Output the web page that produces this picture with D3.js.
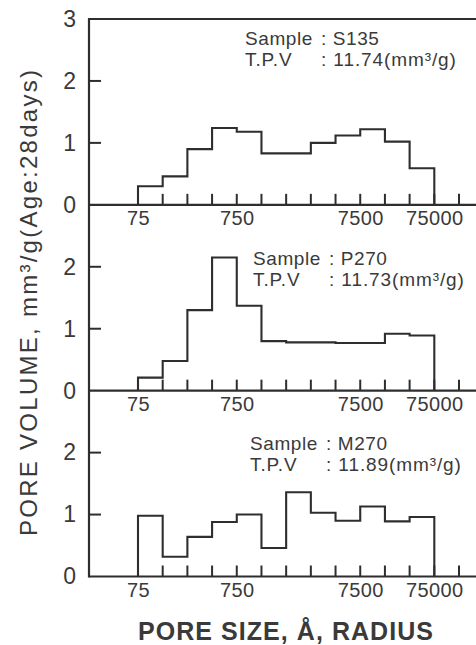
<!DOCTYPE html>
<html>
<head>
<meta charset="utf-8">
<script src="https://cdn.jsdelivr.net/npm/d3@7"></script>
<style>
  html, body { margin: 0; padding: 0; background: #fff; }
  svg { display: block; }
  text { font-family: "Liberation Sans", Arial, sans-serif; fill: #3a3a3a; }
</style>
</head>
<body>
<svg id="chart" width="476" height="645" viewBox="0 0 476 645"></svg>
<script>
// ---------- data ----------
const sampleNames = ["S135", "P270", "M270"];
const tpvValues = ["11.74", "11.73", "11.89"];
// pore volume per bin (12 equal-width bins on the pore-size axis)
const s135 = [0.30, 0.46, 0.90, 1.24, 1.18, 0.83, 0.83, 1.00, 1.12, 1.22, 1.02, 0.59];
const p270 = [0.21, 0.48, 1.30, 2.15, 1.37, 0.80, 0.78, 0.78, 0.77, 0.77, 0.92, 0.89];
const m270 = [0.98, 0.32, 0.64, 0.88, 1.00, 0.46, 1.36, 1.03, 0.90, 1.13, 0.89, 0.96];
const seriesList = [s135, p270, m270];
// x-axis tick positions (bin edge index) and labelled ticks
const xTickIndex = [0, 1, 2, 3, 4, 5, 6, 7, 8, 9, 10, 11, 12, 13];
const xLabelIndex = [0, 4, 9, 12];
const xLabels = ["75", "750", "7500", "75000"];
const yTicks = [1, 2];
const yLabelSets = [[0, 1, 2, 3], [0, 1, 2], [0, 1, 2]];

// ---------- layout ----------
const W = 476, H = 645;
const axisX = 89, rightX = 476;
const panelTop = 19, panelBottom = 576.5;
const nPanels = 3;
const panelH = (panelBottom - panelTop) / nPanels;
const annot = [{x: 245, y: 45}, {x: 253, y: 265}, {x: 250, y: 450}];
const lineColor = "#2e2e2e";
const textColor = "#3a3a3a";
const xTickLen = 11, yTickLen = 12;

const svg = d3.select("#chart");
svg.append("rect").attr("width", W).attr("height", H).attr("fill", "#fff");

const x = d3.scaleLinear().domain([0, 13]).range([138, 459]);

seriesList.forEach((vals, p) => {
  const top = panelTop + p * panelH;
  const bottom = top + panelH;
  const y = d3.scaleLinear().domain([0, 3]).range([bottom, top]);

  // baseline
  svg.append("line").attr("x1", axisX).attr("x2", rightX)
    .attr("y1", y(0)).attr("y2", y(0))
    .attr("stroke", lineColor).attr("stroke-width", 2.2);

  // x ticks pointing up from the baseline
  svg.append("g").selectAll("line").data(xTickIndex).join("line")
    .attr("x1", d => x(d)).attr("x2", d => x(d))
    .attr("y1", y(0)).attr("y2", y(0) - xTickLen)
    .style("stroke", lineColor).style("stroke-width", "2px");
  // y ticks pointing right from the axis
  svg.append("g").selectAll("line").data(yTicks).join("line")
    .attr("x1", axisX).attr("x2", axisX + yTickLen)
    .attr("y1", d => y(d)).attr("y2", d => y(d))
    .style("stroke", lineColor).style("stroke-width", "2px");

  // x labels
  const xl = svg.append("g").attr("transform", `translate(0,${y(0)})`)
    .call(d3.axisBottom(x).tickValues(xLabelIndex).tickSize(0).tickPadding(6)
      .tickFormat((d, i) => xLabels[i]));
  xl.select(".domain").remove();
  xl.selectAll(".tick text").attr("font-size", 20).attr("letter-spacing", 0.4)
    .attr("fill", textColor).attr("font-family", "Liberation Sans, Arial, sans-serif");

  // y labels
  const yl = svg.append("g").attr("transform", `translate(${axisX},0)`)
    .call(d3.axisLeft(y).tickValues(yLabelSets[p]).tickSize(0).tickPadding(13)
      .tickFormat(d3.format("d")));
  yl.select(".domain").remove();
  yl.selectAll(".tick text").attr("font-size", 23)
    .attr("fill", textColor).attr("font-family", "Liberation Sans, Arial, sans-serif");

  // step histogram outline
  const pts = [[0, 0]];
  vals.forEach((v, i) => pts.push([i, v]));
  pts.push([vals.length, vals[vals.length - 1]]);
  pts.push([vals.length, 0]);
  const line = d3.line().x(d => x(d[0])).y(d => y(d[1])).curve(d3.curveStepAfter);
  svg.append("path").attr("d", line(pts)).attr("fill", "none")
    .attr("stroke", lineColor).attr("stroke-width", 2.1).attr("stroke-linejoin", "miter");

  // annotation
  const a = annot[p];
  const t1 = svg.append("text").attr("font-size", 19).attr("letter-spacing", 0.6);
  t1.append("tspan").attr("x", a.x).attr("y", a.y).text("Sample");
  t1.append("tspan").attr("x", a.x + 76).attr("y", a.y).text(": " + sampleNames[p]);
  const t2 = svg.append("text").attr("font-size", 19).attr("letter-spacing", 0.9);
  t2.append("tspan").attr("x", a.x).attr("y", a.y + 21).text("T.P.V");
  t2.append("tspan").attr("x", a.x + 76).attr("y", a.y + 21).text(": " + tpvValues[p] + "(mm³/g)");
});

// frame: left axis + top border
svg.append("line").attr("x1", axisX).attr("x2", axisX)
  .attr("y1", panelTop - 1).attr("y2", panelBottom + 1)
  .attr("stroke", lineColor).attr("stroke-width", 2.2);
svg.append("line").attr("x1", axisX).attr("x2", rightX)
  .attr("y1", panelTop).attr("y2", panelTop)
  .attr("stroke", lineColor).attr("stroke-width", 2);

// axis titles
svg.append("text")
  .attr("transform", `translate(37,${(536 + 70) / 2}) rotate(-90)`)
  .attr("text-anchor", "middle").attr("font-size", 24)
  .attr("textLength", 466).attr("lengthAdjust", "spacing")
  .text("PORE VOLUME, mm³/g(Age:28days)");

svg.append("text")
  .attr("x", 285.5).attr("y", 640)
  .attr("text-anchor", "middle").attr("font-size", 25).attr("font-weight", "bold")
  .attr("textLength", 295).attr("lengthAdjust", "spacing")
  .text("PORE SIZE, Å, RADIUS");
</script>
</body>
</html>
